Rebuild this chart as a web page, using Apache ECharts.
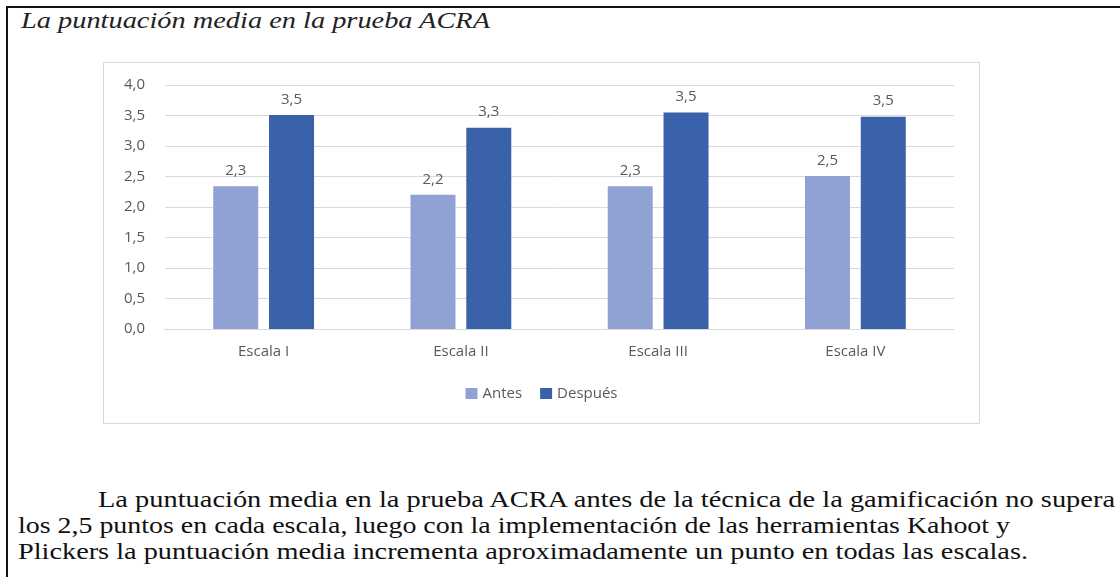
<!DOCTYPE html>
<html>
<head>
<meta charset="utf-8">
<script src="https://cdn.jsdelivr.net/npm/echarts@6/dist/echarts.min.js"></script>
<style>
    body { margin: 0; background: #fff; }
    .page { position: relative; width: 1120px; height: 577px; overflow: hidden; }
    .frame-top { position: absolute; left: 6px; top: 6px; width: 1114px; height: 2px; background: #111; }
    .frame-left { position: absolute; left: 6px; top: 6px; width: 2px; height: 571px; background: #111; }
    .txt {
        position: absolute; white-space: nowrap; display: inline-block;
        font-family: "Liberation Serif", serif; color: #111;
        transform-origin: left center; line-height: 26px;
    }
    .cap { font-style: italic; font-size: 24px; color: #222; }
    .para { font-size: 24px; }
    .chart-block {
        position: absolute; left: 103px; top: 62px; width: 877px; height: 362px;
        border: 1px solid #d9d9d9; box-sizing: border-box;
    }
</style>
</head>
<body>
<div class="page">
    <div class="frame-top"></div>
    <div class="frame-left"></div>
    <!-- título de la figura -->
    <div class="txt cap" style="left: 21px; top: 7px;" data-w="469">La puntuación media en la prueba ACRA</div>
    <div id="chart" class="chart-block"></div>
    <!-- párrafo -->
    <div class="txt para" style="left: 98px; top: 486px;" data-w="1017">La puntuación media en la prueba ACRA antes de la técnica de la gamificación no supera</div>
    <div class="txt para" style="left: 18px; top: 512px;" data-w="992">los 2,5 puntos en cada escala, luego con la implementación de las herramientas Kahoot y</div>
    <div class="txt para" style="left: 18px; top: 538px;" data-w="1010">Plickers la puntuación media incrementa aproximadamente un punto en todas las escalas.</div>
</div>
<script>
    // datos
    const categories = ['Escala I', 'Escala II', 'Escala III', 'Escala IV'];
    const antes = [2.34, 2.20, 2.34, 2.51];
    const despues = [3.51, 3.30, 3.55, 3.48];
    const yTicks = [0, 4, 0.5]; // min, max, intervalo

    // ajustar el ancho de las líneas de texto
    document.querySelectorAll('.txt').forEach((el) => {
        const target = Number(el.dataset.w);
        const w = el.getBoundingClientRect().width;
        if (w > 0) {
            el.style.transform = 'scaleX(' + (target / w) + ')';
        }
    });

    const fmt = (v) => v.toFixed(1).replace('.', ',');
    const labelFont = '"Open Sans", sans-serif';
    const grey = '#595959';

    const chart = echarts.init(document.getElementById('chart'));
    chart.setOption({
        animation: false,
        textStyle: { fontFamily: labelFont },
        grid: { left: 61, right: 25, top: 22, bottom: 94 },
        legend: {
            data: ['Antes', 'Después'],
            bottom: 17,
            left: 'center',
            itemWidth: 12,
            itemHeight: 11,
            itemGap: 18,
            icon: 'rect',
            textStyle: { color: grey, fontSize: 15, fontFamily: labelFont }
        },
        xAxis: {
            type: 'category',
            data: categories,
            axisLine: { lineStyle: { color: '#d9d9d9', width: 1 } },
            axisTick: { show: false },
            axisLabel: { color: grey, fontSize: 15, margin: 15 }
        },
        yAxis: {
            type: 'value',
            min: yTicks[0],
            max: yTicks[1],
            interval: yTicks[2],
            axisLine: { show: false },
            axisTick: { show: false },
            splitLine: { lineStyle: { color: '#d9d9d9', width: 1 } },
            axisLabel: { color: grey, fontSize: 15, margin: 20, formatter: fmt }
        },
        series: [
            {
                name: 'Antes',
                type: 'bar',
                data: antes,
                barWidth: 45,
                barGap: '24%',
                itemStyle: { color: '#8FA2D3' },
                label: { show: true, position: 'top', distance: 8, color: grey, fontSize: 15, formatter: (p) => fmt(p.value) }
            },
            {
                name: 'Después',
                type: 'bar',
                data: despues,
                barWidth: 45,
                itemStyle: { color: '#3A62AB' },
                label: { show: true, position: 'top', distance: 8, color: grey, fontSize: 15, formatter: (p) => fmt(p.value) }
            }
        ]
    });
</script>
</body>
</html>
